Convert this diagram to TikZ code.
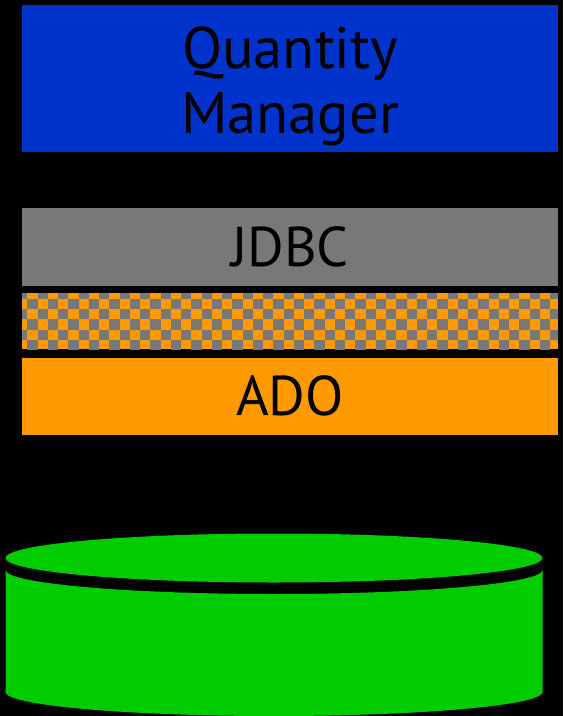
\documentclass[tikz,border=0pt]{standalone}
\usepackage{fontspec}
\setmainfont{PT Sans}
\definecolor{qblue}{RGB}{0,51,204}
\definecolor{jgray}{RGB}{120,120,120}
\definecolor{aorange}{RGB}{255,153,0}
\definecolor{dbgreen}{RGB}{0,204,0}
\tikzset{
  layer/.style={anchor=north west,inner sep=0pt,outer sep=0pt,minimum width=536*0.75pt,align=center,text=black},
  bigtext/.style={font=\fontsize{44}{46.5}\selectfont},
  smalltext/.style={font=\fontsize{42}{46}\selectfont},
  dbfill/.style={fill=dbgreen,draw=none}
}
\begin{document}
\begin{tikzpicture}[x=0.75pt,y=-0.75pt]
\useasboundingbox (0,0) rectangle (563,716);
\fill[black] (0,0) rectangle (563,716);
\node[layer,fill=qblue,minimum height=147*0.75pt,bigtext] (qm) at (22,5.5) {\rule{0pt}{42pt}Quantity\\[2pt]Manager};
\node[layer,fill=jgray,minimum height=77*0.75pt,smalltext] (jdbc) at (22,208.5) {JDBC};
\node[layer,fill=aorange,minimum height=56*0.75pt] (mix) at (22,293) {};
\begin{scope}
  \clip (22,293) rectangle (558,349);
  \foreach \i in {0,...,52}{
    \foreach \j in {0,...,6}{
      \pgfmathtruncatemacro{\cellpar}{mod(\i+\j,2)}
      \ifnum\cellpar=0
        \fill[jgray] ({17.05+10.25*\i},{288.5+10.3*\j}) rectangle +(10.25,10.3);
      \fi
    }
  }
\end{scope}
\node[layer,fill=aorange,minimum height=77*0.75pt,smalltext] (ado) at (22,357.5) {ADO};
% database
\fill[dbfill] (5.5,570) arc[start angle=180,end angle=0,x radius=268.5,y radius=24] -- (542.5,692) arc[start angle=0,end angle=180,x radius=268.5,y radius=24] -- cycle;
\fill[dbfill] (274,558) ellipse[x radius=268.5,y radius=24.5];
\end{tikzpicture}
\end{document}
